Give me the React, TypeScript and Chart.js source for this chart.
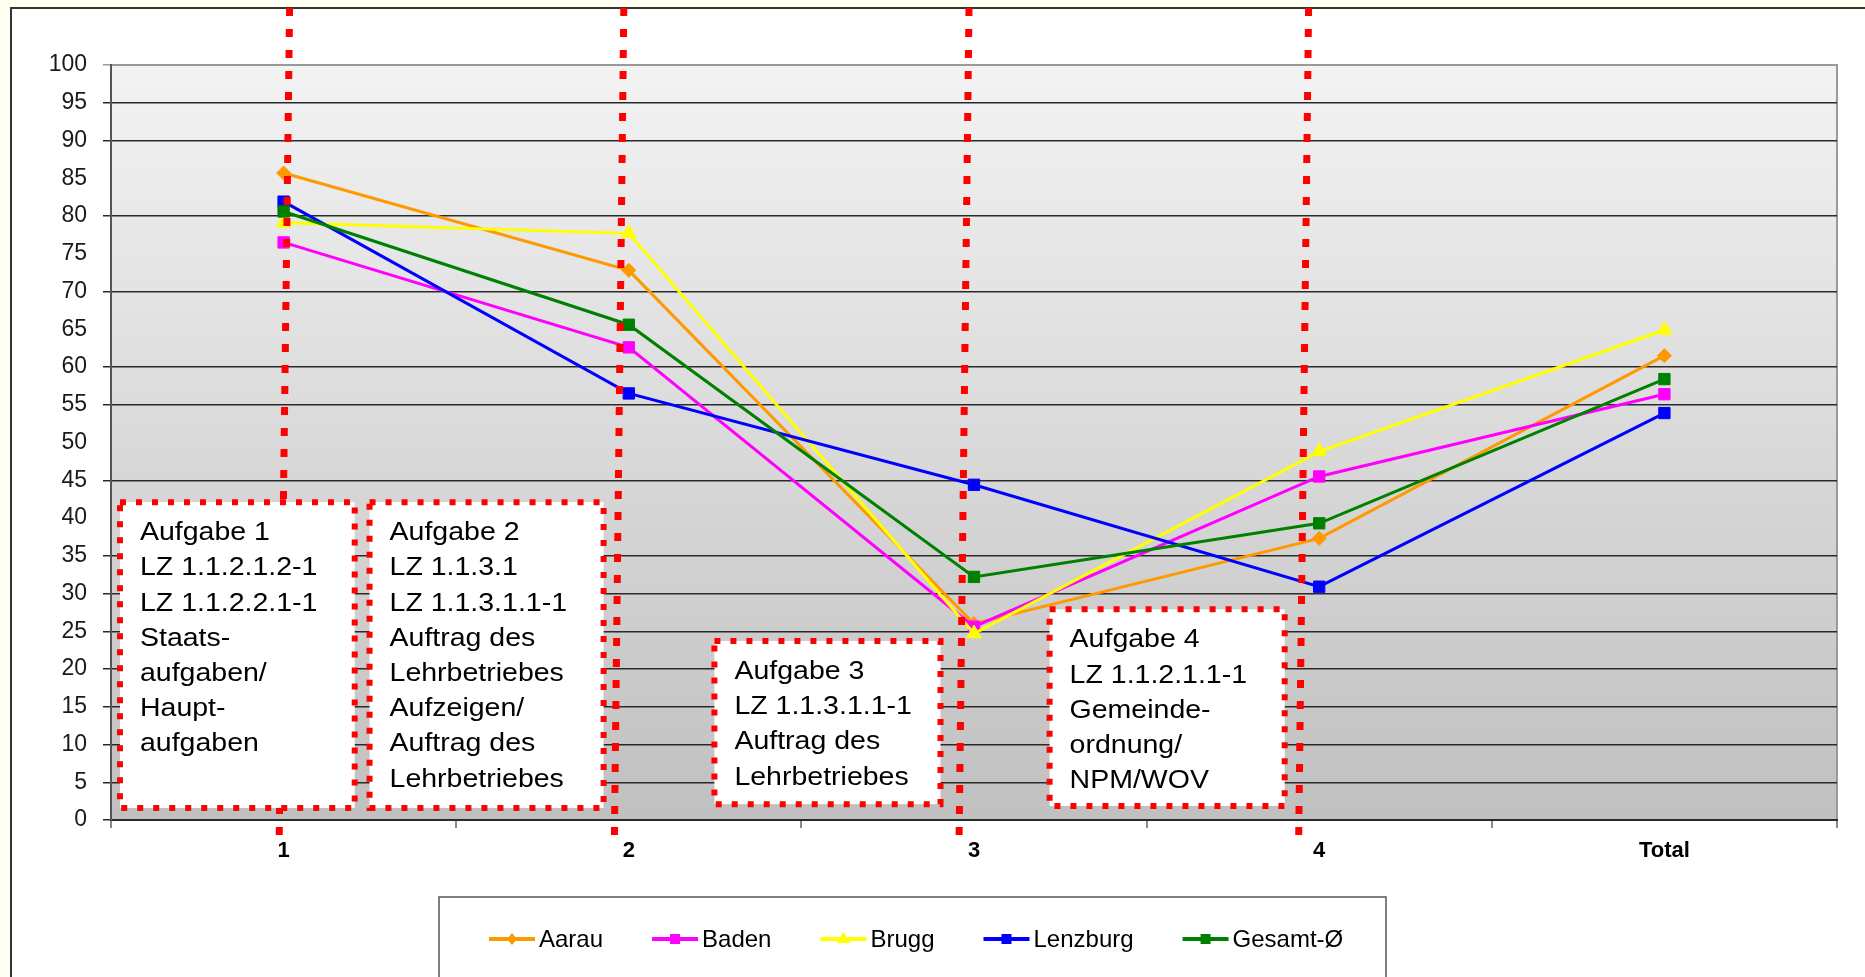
import React, { useEffect, useRef } from 'react';
import { Chart, registerables } from 'chart.js';

Chart.register(...registerables);

// ---------- data ----------
const categories = ['1', '2', '3', '4', 'Total'];
const seriesNames = ['Aarau', 'Baden', 'Brugg', 'Lenzburg', 'Gesamt-Ø'];
const aarau = [85.7, 72.8, 26.0, 37.3, 61.5];
const baden = [76.5, 62.6, 25.6, 45.5, 56.4];
const brugg = [79.1, 77.7, 24.7, 48.8, 64.9];
const lenzburg = [81.9, 56.5, 44.4, 30.9, 53.9];
const gesamt = [80.6, 65.6, 32.2, 39.3, 58.4];
const yMin = 0;
const yMax = 100;
const yStep = 5;
const hiddenGridValues = [85, 75, 65, 50, 40];

const boxTexts = [
  ['Aufgabe 1', 'LZ 1.1.2.1.2-1', 'LZ 1.1.2.2.1-1', 'Staats-', 'aufgaben/', 'Haupt-', 'aufgaben'],
  ['Aufgabe 2', 'LZ 1.1.3.1', 'LZ 1.1.3.1.1-1', 'Auftrag des', 'Lehrbetriebes', 'Aufzeigen/', 'Auftrag des', 'Lehrbetriebes'],
  ['Aufgabe 3', 'LZ 1.1.3.1.1-1', 'Auftrag des', 'Lehrbetriebes'],
  ['Aufgabe 4', 'LZ 1.1.2.1.1-1', 'Gemeinde-', 'ordnung/', 'NPM/WOV'],
];

// ---------- layout / style (not data) ----------
const W = 1865;
const H = 977;
const PLOT_TOP = 65;
const PLOT_BOTTOM = 820;
const PLOT_LEFT = 111;
const PLOT_RIGHT = 1837;
const FONT = "'Liberation Sans', Arial, sans-serif";
const colors = ['#FF9900', '#FF00FF', '#FFFF00', '#0000FF', '#008000'];
const pointStyles = ['rectRot', 'rect', 'triangle', 'rect', 'rect'];
const pointRadii = [7, 8, 8.5, 8, 8];
// box extents: [catFrom, catTo, valueTop, valueBottom]
const boxGeom = [
  [-0.474, 0.206, 42.1, 1.6],
  [0.249, 0.927, 42.1, 1.6],
  [1.248, 1.903, 23.7, 2.1],
  [2.219, 2.9, 27.9, 1.85],
];
// red dotted verticals: offsets from category centre at top / bottom
const vLines = [
  [0, 6, -4.5],
  [1, -5, -14.5],
  [2, -5, -15],
  [3, -10.6, -20.6],
];

export default function App() {
  const ref = useRef<HTMLCanvasElement>(null);

  useEffect(() => {
    const canvas = ref.current!;
    const seriesValues = [aarau, baden, brugg, lenzburg, gesamt];

    const bgPlugin = {
      id: 'bgPlugin',
      beforeDraw(chart: any) {
        const { ctx, chartArea: a } = chart;
        ctx.save();
        ctx.fillStyle = '#FFFFF2';
        ctx.fillRect(0, 0, W, H);
        ctx.fillStyle = '#FFFFFF';
        ctx.fillRect(11, 8, W - 11, H - 8);
        ctx.strokeStyle = '#333333';
        ctx.lineWidth = 2;
        ctx.beginPath();
        ctx.moveTo(11, H);
        ctx.lineTo(11, 8);
        ctx.lineTo(W, 8);
        ctx.stroke();
        const g = ctx.createLinearGradient(0, a.top, 0, a.bottom);
        g.addColorStop(0, '#F3F3F3');
        g.addColorStop(1, '#C0C0C0');
        ctx.fillStyle = g;
        ctx.fillRect(a.left, a.top, a.right - a.left, a.bottom - a.top);
        ctx.strokeStyle = '#9a9a9a';
        ctx.lineWidth = 2;
        ctx.beginPath();
        ctx.moveTo(a.left, a.top);
        ctx.lineTo(a.right, a.top);
        ctx.lineTo(a.right, a.bottom);
        ctx.stroke();
        ctx.restore();
      },
    };

    const annotPlugin = {
      id: 'annotPlugin',
      afterDatasetsDraw(chart: any) {
        const { ctx } = chart;
        const xs = chart.scales.x;
        const ys = chart.scales.y;
        ctx.save();
        // vertical dotted lines
        ctx.strokeStyle = '#FF0000';
        ctx.lineWidth = 7;
        ctx.setLineDash([8, 13]);
        ctx.lineCap = 'butt';
        vLines.forEach(([cat, dTop, dBot]) => {
          const cx = xs.getPixelForValue(cat);
          ctx.beginPath();
          ctx.moveTo(cx + dTop, 8);
          ctx.lineTo(cx + dBot, 845);
          ctx.stroke();
        });
        // boxes
        boxGeom.forEach(([c0, c1, v0, v1], i) => {
          const x0 = xs.getPixelForValue(c0);
          const x1 = xs.getPixelForValue(c1);
          const y0 = ys.getPixelForValue(v0);
          const y1 = ys.getPixelForValue(v1);
          ctx.setLineDash([]);
          ctx.fillStyle = '#FFFFFF';
          ctx.fillRect(x0, y0, x1 - x0, y1 - y0);
          ctx.strokeStyle = '#FF0000';
          ctx.lineWidth = 6;
          ctx.setLineDash([6, 10]);
          ctx.strokeRect(x0, y0, x1 - x0, y1 - y0);
          ctx.setLineDash([]);
          ctx.fillStyle = '#000000';
          ctx.font = `25px ${FONT}`;
          ctx.textBaseline = 'alphabetic';
          ctx.textAlign = 'left';
          boxTexts[i].forEach((line, k) => {
            ctx.save();
            ctx.translate(x0 + 20, y0 + 38 + k * 35.2);
            ctx.scale(1.14, 1);
            ctx.fillText(line, 0, 0);
            ctx.restore();
          });
        });
        ctx.restore();
      },
    };

    const legendPlugin = {
      id: 'customLegend',
      afterDraw(chart: any) {
        const { ctx } = chart;
        ctx.save();
        ctx.setLineDash([]);
        ctx.fillStyle = '#FFFFFF';
        ctx.fillRect(439, 897, 1386 - 439, H - 897 + 5);
        ctx.strokeStyle = '#555555';
        ctx.lineWidth = 1.5;
        ctx.strokeRect(439, 897, 1386 - 439, H - 897 + 20);
        const cy = 939;
        let x = 489;
        ctx.font = `24px ${FONT}`;
        ctx.textBaseline = 'middle';
        ctx.textAlign = 'left';
        chart.data.datasets.forEach((ds: any, i: number) => {
          ctx.strokeStyle = colors[i];
          ctx.lineWidth = 4;
          ctx.beginPath();
          ctx.moveTo(x, cy);
          ctx.lineTo(x + 46, cy);
          ctx.stroke();
          const mx = x + 23;
          ctx.fillStyle = colors[i];
          ctx.beginPath();
          const st = pointStyles[i];
          if (st === 'rectRot') {
            ctx.moveTo(mx, cy - 6);
            ctx.lineTo(mx + 5, cy);
            ctx.lineTo(mx, cy + 6);
            ctx.lineTo(mx - 5, cy);
          } else if (st === 'triangle') {
            ctx.moveTo(mx, cy - 7);
            ctx.lineTo(mx + 7, cy + 4);
            ctx.lineTo(mx - 7, cy + 4);
          } else {
            ctx.rect(mx - 5, cy - 5, 10, 10);
          }
          ctx.closePath();
          ctx.fill();
          ctx.fillStyle = '#000000';
          ctx.fillText(ds.label, x + 50, cy + 1);
          const tw = ctx.measureText(ds.label).width;
          x += 50 + tw + 49;
        });
        ctx.restore();
      },
    };

    const chart = new Chart(canvas, {
      type: 'line',
      data: {
        labels: categories,
        datasets: seriesNames.map((name, i) => ({
          label: name,
          data: seriesValues[i],
          borderColor: colors[i],
          backgroundColor: colors[i],
          pointBackgroundColor: colors[i],
          pointBorderColor: colors[i],
          pointStyle: pointStyles[i] as any,
          pointRadius: pointRadii[i],
          pointBorderWidth: 1,
          borderWidth: 3,
          tension: 0,
          fill: false,
          order: seriesNames.length - i,
        })),
      },
      options: {
        responsive: false,
        animation: false,
        devicePixelRatio: 1,
        events: [],
        layout: { padding: { left: 0, top: PLOT_TOP, right: W - PLOT_RIGHT, bottom: 0 } },
        plugins: {
          legend: { display: false },
          tooltip: { enabled: false },
          title: { display: false },
        },
        scales: {
          x: {
            type: 'category',
            offset: true,
            grid: {
              display: true,
              drawOnChartArea: false,
              drawTicks: true,
              tickLength: 8,
              color: '#8a8a8a',
              lineWidth: 2,
              offset: true,
            },
            border: { display: true, color: '#2a2a2a', width: 2 },
            ticks: {
              font: { family: FONT, size: 22, weight: 'bold' },
              color: '#000000',
              padding: 10,
              maxRotation: 0,
              autoSkip: false,
            },
            afterFit: (s: any) => {
              s.height = H - PLOT_BOTTOM;
            },
          },
          y: {
            min: yMin,
            max: yMax,
            ticks: {
              stepSize: yStep,
              font: { family: FONT, size: 23 },
              color: '#1a1a1a',
              padding: 16,
            },
            grid: {
              color: (c: any) => {
                const raw = c && c.tick ? c.tick.value : null;
                if (raw === null || raw === undefined) return '#2a2a2a';
                const v = Math.round(raw);
                if (hiddenGridValues.includes(v)) return 'rgba(0,0,0,0)';
                if (v === yMax) return '#9a9a9a';
                return '#2a2a2a';
              },
              lineWidth: 1.5,
              tickLength: 8,
              drawTicks: true,
            },
            border: { display: true, color: '#555555', width: 2 },
            afterFit: (s: any) => {
              s.width = PLOT_LEFT;
            },
          },
        },
      } as any,
      plugins: [bgPlugin, annotPlugin, legendPlugin],
    });

    return () => {
      chart.destroy();
    };
  }, []);

  return (
    <div style={{ position: 'fixed', left: 0, top: 0, width: W, height: H, overflow: 'hidden' }}>
      <canvas ref={ref} width={W} height={H} style={{ display: 'block', width: W, height: H }} />
    </div>
  );
}
